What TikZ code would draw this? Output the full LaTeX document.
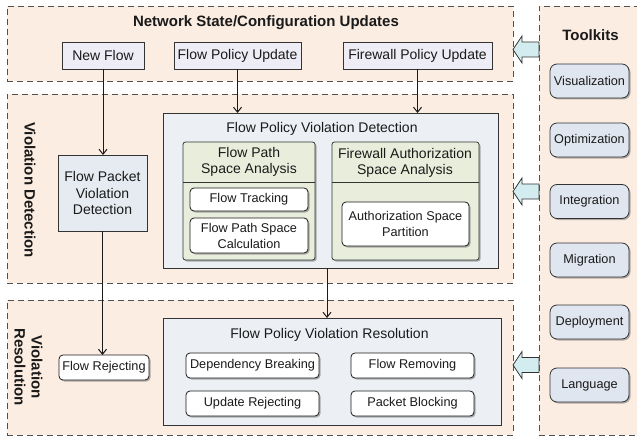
\documentclass[tikz,border=0pt]{standalone}
\usepackage{fontspec}
\setmainfont{Liberation Sans}
\usetikzlibrary{arrows.meta,shadows}

\definecolor{panelfill}{HTML}{FCEDE2}
\definecolor{paneldash}{HTML}{505050}
\definecolor{bigfill}{HTML}{ECF0F5}
\definecolor{topfill}{HTML}{EEEDF5}
\definecolor{pktfill}{HTML}{E6EBF2}
\definecolor{greenfill}{HTML}{E9EEDC}
\definecolor{toolfill}{HTML}{E0E6EF}
\definecolor{arrowfill}{HTML}{D3ECF0}
\definecolor{edge}{HTML}{333333}
\definecolor{ink}{HTML}{1A1A1A}

\newcommand\txtbig{\fontsize{14}{16.5}\selectfont}
\newcommand\txtsmall{\fontsize{12.7}{16}\selectfont}
\newcommand\txttitle{\fontsize{15}{17}\selectfont\bfseries}

\begin{document}
\begin{tikzpicture}[
  x=1pt, y=-1pt,
  every node/.style={inner sep=0pt, outer sep=0pt, text=ink},
  panel/.style={draw=paneldash, fill=panelfill, dash pattern=on 6pt off 4pt, line width=0.9pt},
  paneltitle/.style={font=\txttitle},
  updbox/.style={draw=edge, fill=topfill, line width=0.8pt, font=\txtbig, minimum height=27.5pt},
  bigbox/.style={draw=edge, fill=bigfill, line width=0.8pt},
  pktbox/.style={draw=edge, fill=pktfill, line width=0.8pt, font=\txtbig, align=center},
  greenbox/.style={draw=edge, fill=greenfill, line width=0.8pt, rounded corners=2.5pt,
    drop shadow={shadow xshift=1.5pt, shadow yshift=-1.5pt, fill=black!55, opacity=0.55}},
  itembox/.style={draw=ink, fill=white, line width=0.8pt, rounded corners=4pt, font=\txtsmall, align=center,
    drop shadow={shadow xshift=1.5pt, shadow yshift=-1.5pt, fill=black!55, opacity=0.55}},
  toolbox/.style={draw=edge, fill=toolfill, line width=0.8pt, rounded corners=7pt, font=\txtsmall,
    minimum width=79pt, minimum height=34pt,
    drop shadow={shadow xshift=1.5pt, shadow yshift=-1.5pt, fill=black!55, opacity=0.55}},
  flow/.style={line width=1pt, draw=ink, -{Straight Barb[length=5pt,width=8pt,line width=1pt]}},
  blockarrow/.style={draw=edge, fill=arrowfill, line width=0.8pt, line join=miter}
]
\useasboundingbox (0,0) rectangle (637,441);
\clip (0,0) rectangle (637,441);

% ---- panels ----
\node[panel, minimum width=506pt, minimum height=75pt]  (upd)  at (260,43.5)  {};
\node[panel, minimum width=506pt, minimum height=189pt] (detp) at (260,188.5) {};
\node[panel, minimum width=506pt, minimum height=135pt] (resp) at (260,367.5) {};
\node[panel, minimum width=111pt, minimum height=429pt] (tk)   at (594.5,220.5) {};

\node[paneltitle] (updt) at (266,23) {Network State/Configuration Updates};
\node[paneltitle] (tkt)  at (590.5,35) {Toolkits};
\node[paneltitle, rotate=-90] (detl) at (30,190) {Violation Detection};
\node[paneltitle, rotate=-90, align=center] (resl) at (28.5,367) {Violation\\Resolution};

% ---- update sources ----
\node[updbox, minimum width=82pt]  (nf)  at (103,55.75)   {New Flow};
\node[updbox, minimum width=127pt] (fpu) at (237.5,55.75) {Flow Policy Update};
\node[updbox, minimum width=149pt] (fwu) at (417.5,55.75) {Firewall Policy Update};

% ---- violation detection ----
\node[pktbox, minimum width=89pt, minimum height=76pt] (fpd) at (102.5,193)
  {Flow Packet\\Violation\\Detection};

\node[bigbox, minimum width=335pt, minimum height=155pt] (det) at (330.5,190.5) {};
\node[font=\txtbig] (dett) at (322,129) {Flow Policy Violation Detection};

\node[greenbox, minimum width=132pt, minimum height=118pt] (fpsa) at (249,201) {};
\node[font=\txtbig, align=center] (fpsat) at (249,162) {Flow Path\\Space Analysis};
\draw[edge, line width=0.8pt] (fpsa.west |- 0,182.5) -- (fpsa.east |- 0,182.5);
\node[itembox, minimum width=118pt, minimum height=23pt] (ft)  at (249,199.5) {Flow Tracking};
\node[itembox, minimum width=118pt, minimum height=35pt] (fpc) at (249,235.5) {Flow Path Space\\Calculation};

\node[greenbox, minimum width=147pt, minimum height=118pt] (fwsa) at (405.5,201) {};
\node[font=\txtbig, align=center] (fwsat) at (405,163) {Firewall Authorization\\Space Analysis};
\draw[edge, line width=0.8pt] (fwsa.west |- 0,182.5) -- (fwsa.east |- 0,182.5);
\node[itembox, minimum width=127pt, minimum height=44pt] (asp) at (405.5,224) {Authorization Space\\Partition};

% ---- violation resolution ----
\node[itembox, minimum width=90pt, minimum height=25pt] (rej) at (104,367.5) {Flow Rejecting};

\node[bigbox, minimum width=338pt, minimum height=107pt] (res) at (332,371.5) {};
\node[font=\txtbig] (rest) at (329.5,335) {Flow Policy Violation Resolution};
\node[itembox, minimum width=133pt, minimum height=25pt] (db) at (252.5,365.5) {Dependency Breaking};
\node[itembox, minimum width=133pt, minimum height=25pt] (ur) at (252.5,403.5) {Update Rejecting};
\node[itembox, minimum width=123pt, minimum height=25pt] (fr) at (412.5,365.5) {Flow Removing};
\node[itembox, minimum width=123pt, minimum height=25pt] (pb) at (412.5,403.5) {Packet Blocking};

% ---- toolkits ----
\node[toolbox] (vis)  at (589.5,81)    {Visualization};
\node[toolbox] (opt)  at (589.5,140)   {Optimization};
\node[toolbox] (intg) at (589.5,201.5) {Integration};
\node[toolbox] (mig)  at (589.5,260)   {Migration};
\node[toolbox] (dep)  at (589.5,322)   {Deployment};
\node[toolbox] (lang) at (589.5,385)   {Language};

% ---- flow connectors ----
\draw[flow] (nf.south)  -- (nf.south |- fpd.north);
\draw[flow] (fpu.south) -- (fpu.south |- det.north);
\draw[flow] (fwu.south) -- (fwu.south |- det.north);
\draw[flow] (fpd.south) -- (fpd.south |- rej.north);
\draw[flow] (det.south -| 327,0) -- (res.north -| 327,0);

% ---- toolkit block arrows ----
\foreach \cy in {49.5,191.5,365}{
  \draw[blockarrow] (tk.west |- 0,\cy) ++(0,-7.5) -- ++(-17,0) -- ++(0,-6)
    -- ++(-9,13.5) -- ++(9,13.5) -- ++(0,-6) -- ++(17,0) -- cycle;
}
\end{tikzpicture}
\end{document}
